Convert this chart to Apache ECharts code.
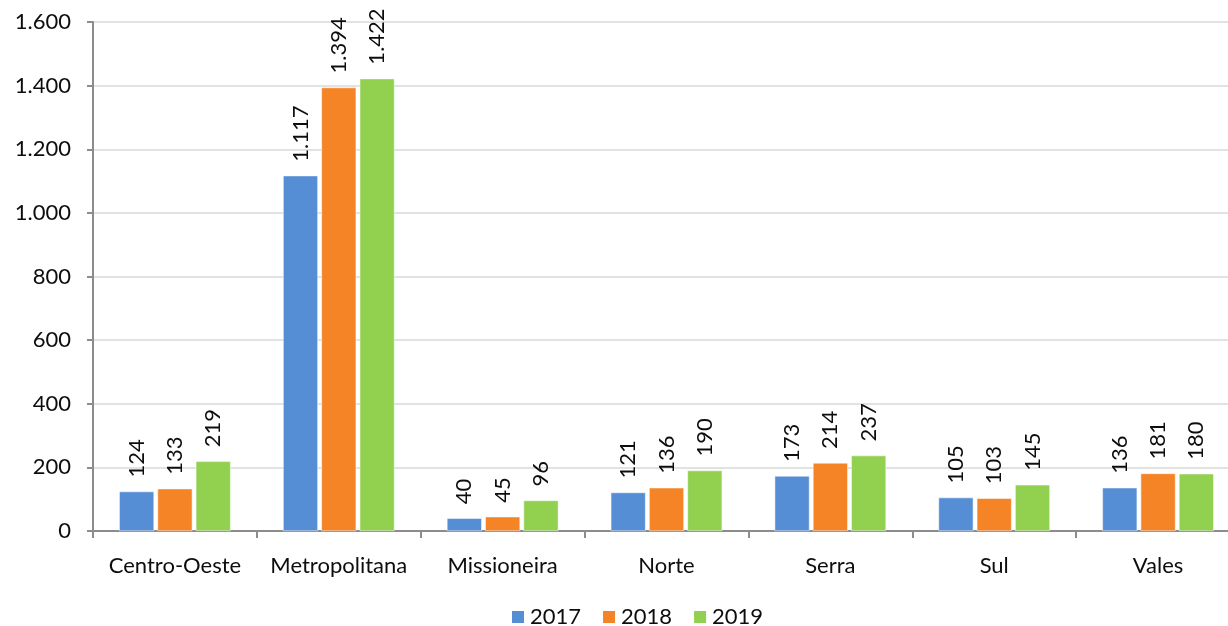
<!DOCTYPE html>
<html>
<head>
<meta charset="utf-8">
<script src="https://cdn.jsdelivr.net/npm/echarts@6/dist/echarts.min.js"></script>
<style>html,body{margin:0;padding:0;background:#fff;overflow:hidden;width:1228px;height:626px;}#c{width:1240px;height:626px;}</style>
</head>
<body>
<div id="c"></div>
<script>
const categories = ['Centro-Oeste','Metropolitana','Missioneira','Norte','Serra','Sul','Vales'];
const s2017 = [124,1117,40,121,173,105,136];
const s2018 = [133,1394,45,136,214,103,181];
const s2019 = [219,1422,96,190,237,145,180];
const seriesNames = ['2017','2018','2019'];
const colors = ['#558ED5','#F58426','#92D050'];

function fmt(v){
  const s = String(Math.round(v));
  return s.replace(/\B(?=(\d{3})+(?!\d))/g,'.');
}
const FONT = 'Lato';
const FS = 22;
const TXT = '#0d0d0d';
const chart = echarts.init(document.getElementById('c'));
const data = [s2017,s2018,s2019];
chart.setOption({
  animation:false,
  textStyle:{fontFamily:FONT},
  grid:{left:93,right:0,top:22,bottom:95,containLabel:false},
  legend:{
    top:606,left:510,padding:0,
    itemWidth:14,itemHeight:14,itemGap:20,
    icon:'rect',
    textStyle:{fontSize:FS,color:TXT,fontFamily:FONT},
    data:seriesNames
  },
  xAxis:{
    type:'category',data:categories,
    axisLine:{lineStyle:{color:'#8c8c8c',width:2}},
    axisTick:{show:true,interval:0,length:7,lineStyle:{color:'#8c8c8c',width:2}},
    axisLabel:{interval:0,fontSize:FS,color:TXT,margin:24,fontFamily:FONT}
  },
  yAxis:{
    type:'value',min:0,max:1600,interval:200,
    axisLine:{show:true,lineStyle:{color:'#8c8c8c',width:2}},
    axisTick:{show:true,length:6,lineStyle:{color:'#8c8c8c',width:2}},
    splitLine:{lineStyle:{color:'#d9d9d9',width:1.5}},
    axisLabel:{fontSize:FS,color:TXT,margin:22,fontFamily:FONT,formatter:fmt}
  },
  series: seriesNames.map((n,i)=>({
    name:n,type:'bar',data:data[i],
    barGap:'10%',barCategoryGap:'32%',
    itemStyle:{color:colors[i],borderColor:'#ffffff',borderWidth:0.5},
    label:{show:true,position:'top',rotate:90,align:'left',verticalAlign:'middle',distance:14,
      fontSize:FS,color:TXT,fontFamily:FONT,formatter:p=>fmt(p.value)}
  }))
});
</script>
</body>
</html>
